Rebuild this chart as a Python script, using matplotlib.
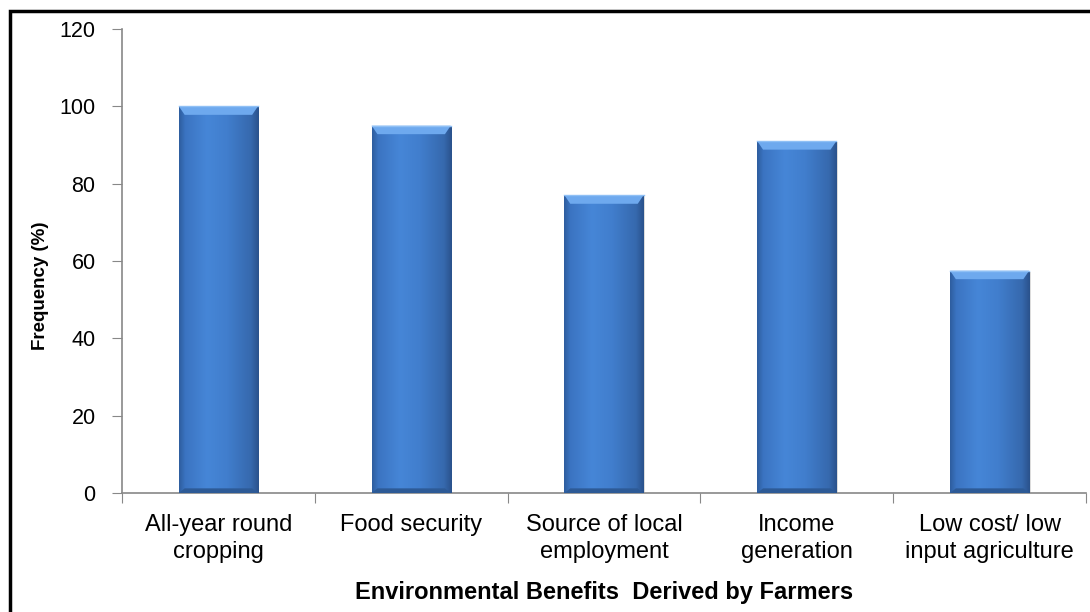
import numpy as np
import matplotlib
matplotlib.use("Agg")
import matplotlib.pyplot as plt
from matplotlib.patches import Rectangle
from matplotlib.colors import LinearSegmentedColormap

categories = ["All-year round\ncropping", "Food security", "Source of local\nemployment",
              "Income\ngeneration", "Low cost/ low\ninput agriculture"]
values = [100, 95, 77, 91, 57.5]
yticks = [0, 20, 40, 60, 80, 100, 120]

plt.rcParams['font.family'] = ['Liberation Sans', 'DejaVu Sans']

fig = plt.figure(figsize=(10.9, 6.12), dpi=100)
ax = fig.add_axes([122/1090, 1-493/612, (1086-122)/1090, (493-29)/612])

x = np.arange(len(categories))
bars = ax.bar(x, values, width=0.41, color='#3d78c8', zorder=2, linewidth=0)

# horizontal gradient for cylinder look
cmap = LinearSegmentedColormap.from_list('b', [
    (0.0, '#2e5d9e'), (0.08, '#3b74c2'), (0.35, '#4686d7'), (0.6, '#417ecd'),
    (0.9, '#3669ae'), (1.0, '#2a528c')])
grad = np.linspace(0, 1, 256)[None, :]
for b in bars:
    x0, w, h = b.get_x(), b.get_width(), b.get_height()
    im = ax.imshow(np.repeat(grad, 2, axis=0), cmap=cmap, aspect='auto',
                   extent=(x0, x0 + w, 0, h), zorder=3, interpolation='bilinear')
    im.set_clip_path(b)
    # top bevel (lighter cap)
    cap = 2.2
    inset = 0.03
    ax.fill([x0, x0 + w, x0 + w - inset, x0 + inset], [h, h, h - cap, h - cap],
            color='#6ea9ee', zorder=4, lw=0)
    ax.plot([x0, x0 + w], [h, h], color='#8fc0f5', lw=1, zorder=5)
    # bottom darker bevel
    ax.fill([x0, x0 + w, x0 + w - inset, x0 + inset], [0, 0, 1.2, 1.2],
            color='#2d5a96', zorder=4, lw=0)
    # soft shadow
    ax.add_patch(Rectangle((x0 + 0.008, -0.3), w, h, color='#bbbbbb', alpha=0.5,
                           zorder=1, lw=0))

ax.set_xlim(-0.5, len(categories) - 0.5)
ax.set_ylim(0, 120)
ax.set_yticks(yticks)
ax.set_yticklabels([str(v) for v in yticks], fontsize=15.5)
ax.set_xticks(np.arange(len(categories) + 1) - 0.5, minor=False)
ax.set_xticklabels([''] * (len(categories) + 1))
ax.set_xticks(x, minor=True)
ax.set_xticklabels(categories, minor=True, fontsize=17, linespacing=1.3)
ax.tick_params(axis='x', which='minor', length=0, pad=15)
ax.tick_params(axis='x', which='major', length=7, color='#888888', direction='out')
ax.tick_params(axis='y', length=7, color='#888888', direction='out', pad=12)

for s in ['top', 'right']:
    ax.spines[s].set_visible(False)
for s in ['left', 'bottom']:
    ax.spines[s].set_color('#888888')
    ax.spines[s].set_linewidth(1.2)

ax.set_ylabel('Frequency (%)', fontsize=13.5, fontweight='bold', va='center')
ax.yaxis.set_label_coords(-81/964, 0.447)
ax.set_xlabel('Environmental Benefits  Derived by Farmers', fontsize=17,
              fontweight='bold', labelpad=13)

fig.patches.append(Rectangle((10/1090, -0.2), 2, 1.2 - 11/612, transform=fig.transFigure,
                             fill=False, edgecolor='black', lw=2.5, zorder=10))

fig.savefig('out.png', dpi=100, facecolor='white')
